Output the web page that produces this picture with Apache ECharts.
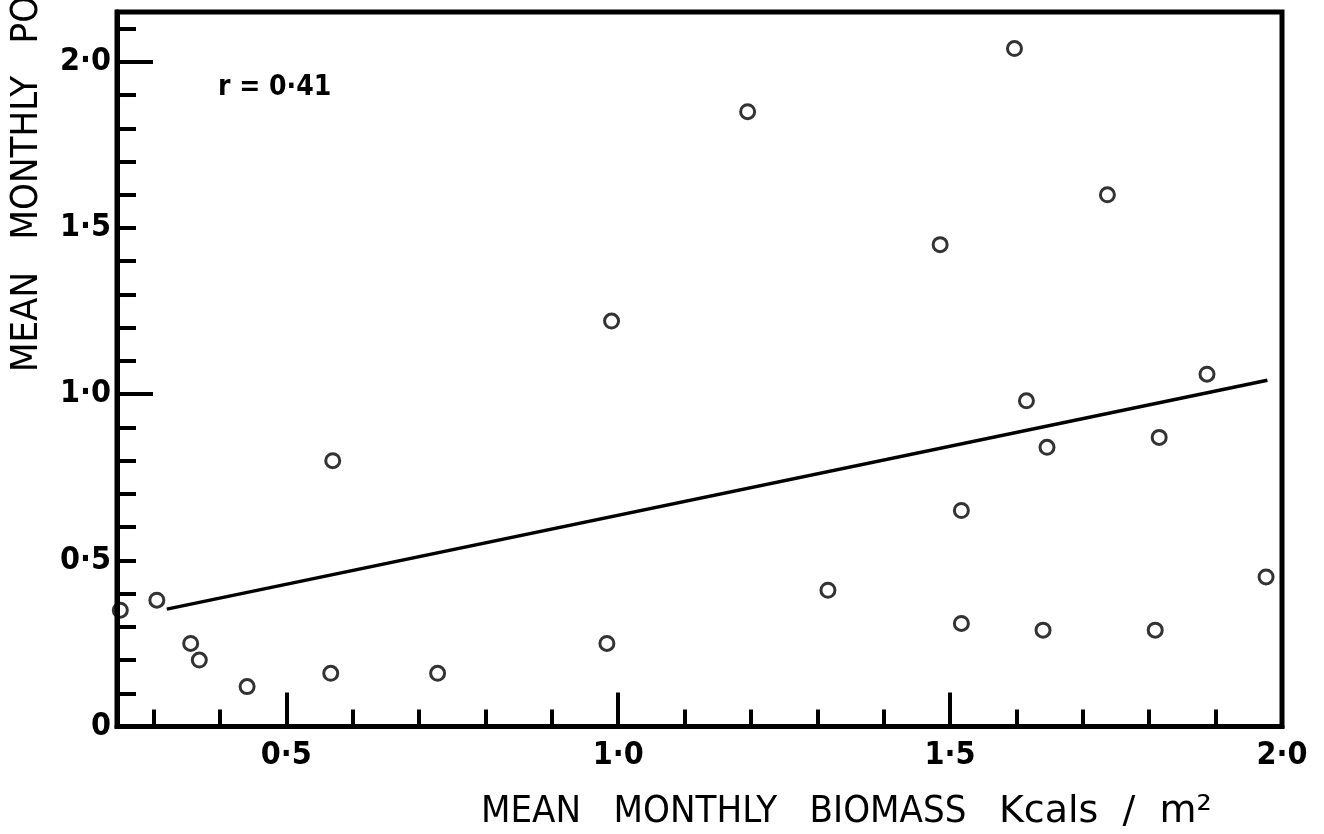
<!DOCTYPE html>
<html>
<head>
<meta charset="utf-8">
<script src="https://cdn.jsdelivr.net/npm/echarts@6/dist/echarts.min.js"></script>
<style>
  html, body { margin: 0; padding: 0; background: #fff; }
  #chart { width: 1324px; height: 834px; }
</style>
</head>
<body>
<div id="chart"></div>
<script>
// ---- data ----
const biomass = [0.25, 0.305, 0.356, 0.369, 0.441, 0.567, 0.728, 0.570, 0.983, 0.990, 1.195, 1.316,
                 1.485, 1.597, 1.737, 1.615, 1.646, 1.815, 1.887, 1.517, 1.976, 1.517, 1.640, 1.809];
const production = [0.35, 0.38, 0.25, 0.20, 0.12, 0.16, 0.16, 0.80, 0.25, 1.22, 1.85, 0.41,
                    1.45, 2.04, 1.60, 0.98, 0.84, 0.87, 1.06, 0.65, 0.45, 0.31, 0.29, 0.29];
const fitX = [0.32, 1.978];
const fitY = [0.353, 1.042];

const xLabelValues = [0.5, 1.0, 1.5, 2.0];
const xLabelTexts = ['0·5', '1·0', '1·5', '2·0'];
const xMajorTicks = [0.5, 1.0, 1.5];
const xMinorTicks = [0.3, 0.4, 0.6, 0.7, 0.8, 0.9, 1.1, 1.2, 1.3, 1.4, 1.6, 1.7, 1.8, 1.9];

const yLabelValues = [0, 0.5, 1.0, 1.5, 2.0];
const yLabelTexts = ['0', '0·5', '1·0', '1·5', '2·0'];
const yMajorTicks = [1.0, 2.0];
const yMinorTicks = [0.1, 0.2, 0.3, 0.4, 0.5, 0.6, 0.7, 0.8, 0.9, 1.1, 1.2, 1.3, 1.4, 1.5, 1.6, 1.7, 1.8, 1.9, 2.1];

const corrText = 'r = 0·41';
const xTitleMain = 'MEAN   MONTHLY   BIOMASS   ';
const xTitleUnit = 'Kcals  /  m²';
const yTitle = 'MEAN   MONTHLY   PO';

// ---- chart ----
const FONT = '"DejaVu Sans Condensed", "DejaVu Sans", sans-serif';
const FONT_WIDE = '"DejaVu Sans", sans-serif';
const INK = '#000000';
const X_MIN = 0.245, X_MAX = 2.0, Y_MIN = 0, Y_MAX = 2.15;

function labelFor(values, texts) {
  return function (v) {
    for (let i = 0; i < values.length; i++) {
      if (Math.abs(values[i] - v) < 1e-6) return texts[i];
    }
    return '';
  };
}

const chart = echarts.init(document.getElementById('chart'), null, { renderer: 'canvas' });

const baseX = {
  type: 'value', min: X_MIN, max: X_MAX, position: 'bottom',
  splitLine: { show: false }
};
const baseY = {
  type: 'value', min: Y_MIN, max: Y_MAX, position: 'left',
  splitLine: { show: false }
};

chart.setOption({
  animation: false,
  backgroundColor: '#ffffff',
  grid: {
    left: 117, top: 12, right: 42, bottom: 107.5,
    show: true, borderColor: INK, borderWidth: 5,
    outerBoundsMode: 'none', containLabel: false
  },
  xAxis: [
    Object.assign({}, baseX, {
      axisLine: { show: true, onZero: false, lineStyle: { color: INK, width: 5 } },
      axisTick: { show: true, inside: true, length: 17, lineStyle: { color: INK, width: 4 },
                  customValues: xMinorTicks },
      axisLabel: { show: true, customValues: xLabelValues, formatter: labelFor(xLabelValues, xLabelTexts),
                   color: INK, fontFamily: FONT, fontWeight: 'bold', fontSize: 32, margin: 13 }
    }),
    Object.assign({}, baseX, {
      axisLine: { show: false, onZero: false },
      axisTick: { show: true, inside: true, length: 34, lineStyle: { color: INK, width: 4 },
                  customValues: xMajorTicks },
      axisLabel: { show: false }
    })
  ],
  yAxis: [
    Object.assign({}, baseY, {
      axisLine: { show: true, onZero: false, lineStyle: { color: INK, width: 5 } },
      axisTick: { show: true, inside: true, length: 19, lineStyle: { color: INK, width: 4 },
                  customValues: yMinorTicks },
      axisLabel: { show: true, customValues: yLabelValues, formatter: labelFor(yLabelValues, yLabelTexts),
                   color: INK, fontFamily: FONT, fontWeight: 'bold', fontSize: 32, margin: 6 }
    }),
    Object.assign({}, baseY, {
      axisLine: { show: false, onZero: false },
      axisTick: { show: true, inside: true, length: 36, lineStyle: { color: INK, width: 4 },
                  customValues: yMajorTicks },
      axisLabel: { show: false }
    })
  ],
  series: [
    {
      type: 'line',
      xAxisIndex: 0, yAxisIndex: 0,
      data: fitX.map((x, i) => [x, fitY[i]]),
      symbol: 'none',
      lineStyle: { color: INK, width: 3.4 },
      z: 3
    },
    {
      type: 'scatter',
      xAxisIndex: 0, yAxisIndex: 0,
      data: biomass.map((x, i) => [x, production[i]]),
      symbol: 'circle',
      symbolSize: 14,
      itemStyle: { color: 'rgba(0,0,0,0)', borderColor: INK, borderWidth: 3 },
      z: 4
    }
  ],
  graphic: [
    {
      type: 'text', x: 218, y: 88,
      style: { text: corrText, fill: INK, font: 'bold 28px ' + FONT, textAlign: 'left', textVerticalAlign: 'middle' }
    },
    {
      type: 'text', x: 481, y: 812,
      style: {
        text: '{a|' + xTitleMain + '}{b|' + xTitleUnit + '}',
        textAlign: 'left', textVerticalAlign: 'middle',
        rich: {
          a: { fill: INK, font: '38px ' + FONT },
          b: { fill: INK, font: '38px ' + FONT_WIDE }
        }
      }
    },
    {
      type: 'text', x: 27, y: 372, rotation: Math.PI / 2,
      style: { text: yTitle, fill: INK, font: '38px ' + FONT, textAlign: 'left', textVerticalAlign: 'middle' }
    }
  ]
});
</script>
</body>
</html>
